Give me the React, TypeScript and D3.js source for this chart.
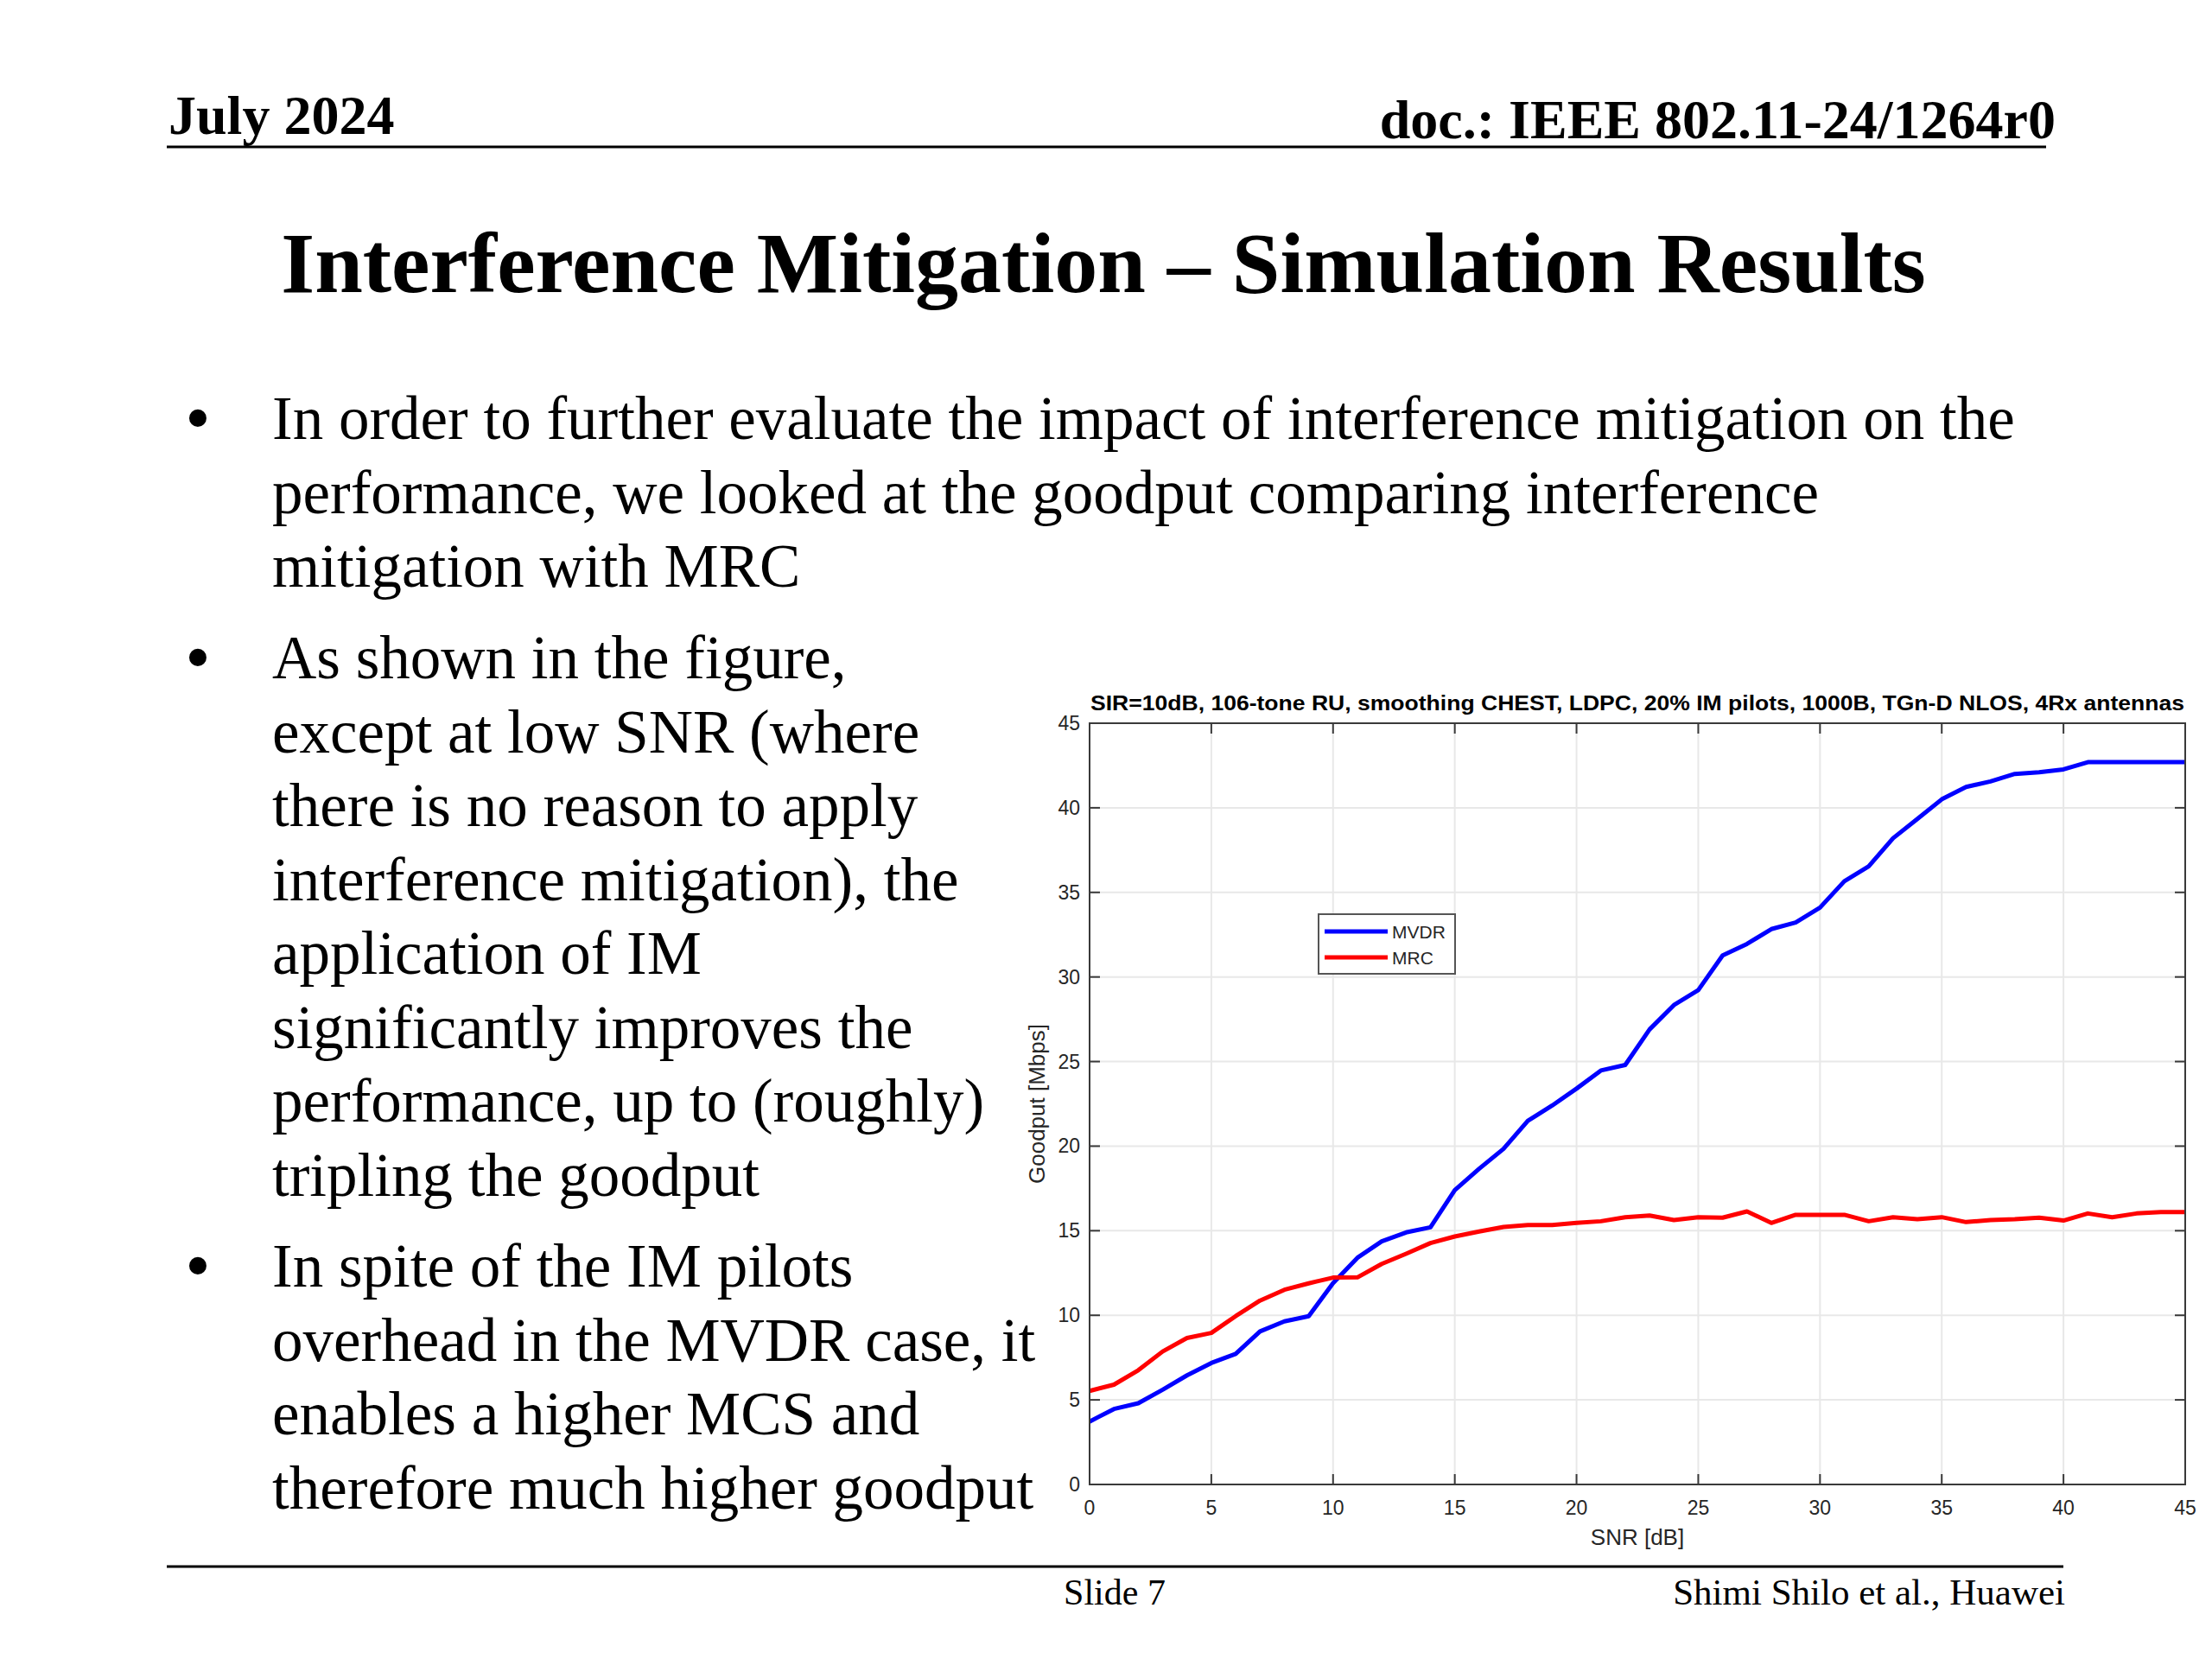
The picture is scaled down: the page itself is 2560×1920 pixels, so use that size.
import React from "react";
import * as d3 from "d3";

const snr = [0,1,2,3,4,5,6,7,8,9,10,11,12,13,14,15,16,17,18,19,20,21,22,23,24,25,26,27,28,29,30,31,32,33,34,35,36,37,38,39,40,41,42,43,44,45];
const mvdr = [3.72,4.46,4.8,5.6,6.45,7.18,7.72,9.05,9.64,9.95,11.9,13.4,14.37,14.9,15.2,17.4,18.66,19.84,21.5,22.4,23.4,24.47,24.8,26.9,28.34,29.22,31.27,31.95,32.83,33.22,34.1,35.66,36.54,38.2,39.34,40.5,41.23,41.56,42.0,42.1,42.27,42.7,42.7,42.7,42.7,42.7];
const mrc = [5.53,5.9,6.75,7.86,8.66,8.96,9.95,10.87,11.51,11.89,12.23,12.24,13.04,13.64,14.27,14.66,14.95,15.22,15.34,15.34,15.46,15.56,15.8,15.9,15.63,15.8,15.77,16.14,15.46,15.94,15.94,15.94,15.56,15.8,15.68,15.8,15.51,15.63,15.68,15.77,15.6,16.02,15.8,16.02,16.1,16.1];
const seriesNames = ["MVDR", "MRC"];
const seriesColors = ["#0000ff", "#ff0000"];
const xTicks = [0,5,10,15,20,25,30,35,40,45];
const yTicks = [0,5,10,15,20,25,30,35,40,45];

const headerLeft = "July 2024";
const headerRight = "doc.: IEEE 802.11-24/1264r0";
const slideTitle = "Interference Mitigation \u2013 Simulation Results";
const bullets = [
  ["In order to further evaluate the impact of interference mitigation on the",
   "performance, we looked at the goodput comparing interference",
   "mitigation with MRC"],
  ["As shown in the figure,",
   "except at low SNR (where",
   "there is no reason to apply",
   "interference mitigation), the",
   "application of IM",
   "significantly improves the",
   "performance, up to (roughly)",
   "tripling the goodput"],
  ["In spite of the IM pilots",
   "overhead in the MVDR case, it",
   "enables a higher MCS and",
   "therefore much higher goodput"],
];
const bulletStarts = [508, 785, 1489];
const chartTitle = "SIR=10dB, 106-tone RU, smoothing CHEST, LDPC, 20% IM pilots, 1000B, TGn-D NLOS, 4Rx antennas";
const xLabel = "SNR [dB]";
const yLabel = "Goodput [Mbps]";
const footerCenter = "Slide 7";
const footerRight = "Shimi Shilo et al., Huawei";

const serif = "'Liberation Serif', 'Times New Roman', serif";
const sans = "'Liberation Sans', Arial, sans-serif";

export default function App() {
  const L = 1261, R = 2529, T = 837, B = 1718;
  const x = d3.scaleLinear().domain([0, 45]).range([L, R]);
  const y = d3.scaleLinear().domain([0, 45]).range([B, T]);
  const line = d3.line<number>().x((_, i) => x(snr[i])).y((d) => y(d));
  const series = [mvdr, mrc];
  const axisColor = "#3a3a3a";
  const tickLen = 12;
  const lineH = 85.5;

  return (
    <svg width={2560} height={1920} style={{ position: "absolute", left: 0, top: 0, background: "#fff" }}>
      <rect x={0} y={0} width={2560} height={1920} fill="#fff" />
      {/* header */}
      <text x={195} y={155} fontFamily={serif} fontWeight="bold" fontSize={64} fill="#000">{headerLeft}</text>
      <text x={2379} y={160} fontFamily={serif} fontWeight="bold" fontSize={64} fill="#000" textAnchor="end">{headerRight}</text>
      <line x1={193} x2={2368} y1={170} y2={170} stroke="#000" strokeWidth={3} />
      <text x={1277} y={338} fontFamily={serif} fontWeight="bold" fontSize={100} fill="#000" textAnchor="middle">{slideTitle}</text>
      {/* bullets */}
      {bullets.map((lines, bi) => (
        <g key={bi}>
          <text x={229} y={bulletStarts[bi] + 4} fontFamily={serif} fontSize={84} textAnchor="middle" fill="#000">{"\u2022"}</text>
          {lines.map((t, li) => (
            <text key={li} x={315} y={bulletStarts[bi] + li * lineH} fontFamily={serif} fontSize={71} fill="#000">{t}</text>
          ))}
        </g>
      ))}
      {/* chart */}
      <rect x={L} y={T} width={R - L} height={B - T} fill="#fff" />
      {xTicks.map((t) => (
        <line key={"gx" + t} x1={x(t)} x2={x(t)} y1={T} y2={B} stroke="#e8e8e8" strokeWidth={2} />
      ))}
      {yTicks.map((t) => (
        <line key={"gy" + t} x1={L} x2={R} y1={y(t)} y2={y(t)} stroke="#e8e8e8" strokeWidth={2} />
      ))}
      {series.map((s, i) => (
        <path key={"s" + i} d={line(s) || ""} fill="none" stroke={seriesColors[i]} strokeWidth={5} strokeLinejoin="round" />
      ))}
      <rect x={L} y={T} width={R - L} height={B - T} fill="none" stroke={axisColor} strokeWidth={2} />
      {xTicks.map((t) => (
        <g key={"tx" + t}>
          <line x1={x(t)} x2={x(t)} y1={B} y2={B - tickLen} stroke={axisColor} strokeWidth={2} />
          <line x1={x(t)} x2={x(t)} y1={T} y2={T + tickLen} stroke={axisColor} strokeWidth={2} />
          <text x={x(t)} y={1753} fontFamily={sans} fontSize={23} fill="#262626" textAnchor="middle">{t}</text>
        </g>
      ))}
      {yTicks.map((t) => (
        <g key={"ty" + t}>
          <line x1={L} x2={L + tickLen} y1={y(t)} y2={y(t)} stroke={axisColor} strokeWidth={2} />
          <line x1={R} x2={R - tickLen} y1={y(t)} y2={y(t)} stroke={axisColor} strokeWidth={2} />
          <text x={1250} y={y(t)} dy="0.35em" fontFamily={sans} fontSize={23} fill="#262626" textAnchor="end">{t}</text>
        </g>
      ))}
      <text x={(L + R) / 2} y={822} fontFamily={sans} fontWeight="bold" fontSize={24} fill="#000" textAnchor="middle" textLength={R - L - 2} lengthAdjust="spacingAndGlyphs">{chartTitle}</text>
      <text x={(L + R) / 2} y={1788} fontFamily={sans} fontSize={26} fill="#262626" textAnchor="middle">{xLabel}</text>
      <text transform={`translate(1209, ${(T + B) / 2}) rotate(-90)`} fontFamily={sans} fontSize={26} fill="#262626" textAnchor="middle">{yLabel}</text>
      {/* legend */}
      <rect x={1526} y={1058} width={158} height={69} fill="#fff" stroke="#555" strokeWidth={2} />
      {seriesNames.map((n, i) => (
        <g key={"lg" + i}>
          <line x1={1533} x2={1606} y1={1078 + i * 30} y2={1078 + i * 30} stroke={seriesColors[i]} strokeWidth={5} />
          <text x={1611} y={1078 + i * 30} dy="0.36em" fontFamily={sans} fontSize={21} fill="#262626">{n}</text>
        </g>
      ))}
      {/* footer */}
      <line x1={193} x2={2388} y1={1813} y2={1813} stroke="#000" strokeWidth={3} />
      <text x={1290} y={1857} fontFamily={serif} fontSize={42} fill="#000" textAnchor="middle">{footerCenter}</text>
      <text x={2390} y={1857} fontFamily={serif} fontSize={43} fill="#000" textAnchor="end">{footerRight}</text>
    </svg>
  );
}
